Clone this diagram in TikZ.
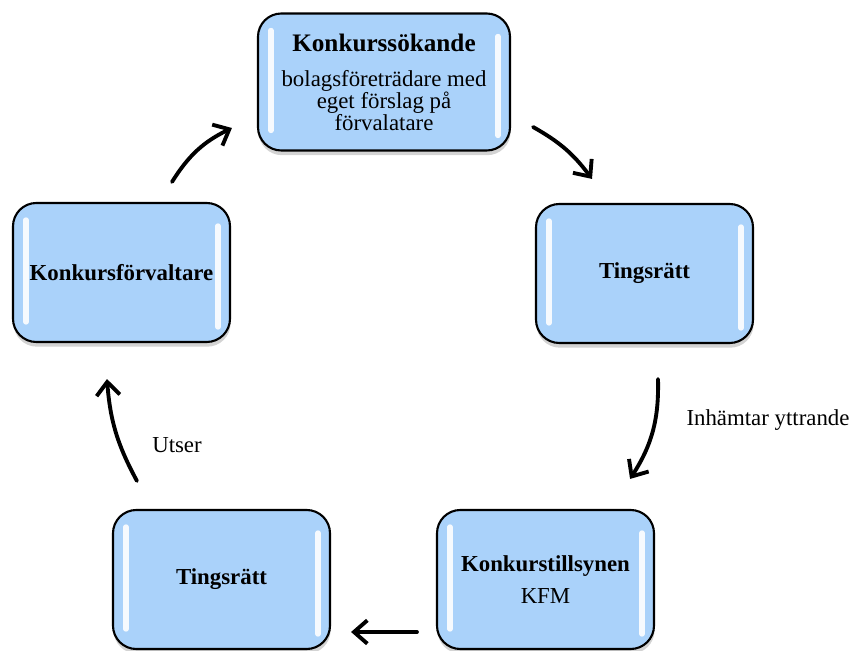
\documentclass[tikz,border=0pt]{standalone}
\usepackage{fontspec}
\setmainfont{Liberation Serif}
\usepackage{xcolor}
\usepackage{tikz}
\usetikzlibrary{arrows.meta,shadows}
\definecolor{boxblue}{RGB}{170,210,250}

\begin{document}
\begin{tikzpicture}[x=0.03cm, y=0.03cm,
    box/.style={draw, line width=1.8pt, rounded corners=0.7cm, fill=boxblue,
        minimum width=6.51cm, minimum height=4.17cm, inner sep=0pt, align=center,
        font=\fontsize{19.5}{18}\selectfont,
        drop shadow={shadow xshift=0.5pt, shadow yshift=-4pt, opacity=.35},
        path picture={
            \draw[white, line width=1.6mm, line cap=round, opacity=.9]
                ([shift={(13,-17)}]path picture bounding box.north west) --
                ([shift={(13,20)}]path picture bounding box.south west);
            \draw[white, line width=1.6mm, line cap=round, opacity=.9]
                ([shift={(-12,-23)}]path picture bounding box.north east) --
                ([shift={(-12,15)}]path picture bounding box.south east);
        }},
    flow/.style={line width=3.3pt, line cap=round,
        -{Straight Barb[length=4mm, width=7mm]}},
    label/.style={font=\fontsize{19.5}{22}\selectfont}]
    \useasboundingbox (0,0) rectangle (852,650);

    \node[box, minimum width=7.56cm, minimum height=4.11cm] (KS) at (384,568)
        {{\fontsize{21.5}{24}\selectfont\bfseries Konkurssökande}\\[12pt]
         bolagsföreträdare med\\eget förslag på\\förvalatare};
    \node[box] (TR) at (644.5,376.5) {\bfseries Tingsrätt};
    \node[box] (KT) at (545.5,70.5) {\bfseries Konkurstillsynen\\[9pt] KFM};
    \node[box] (TR2) at (221.5,70.5) {\bfseries Tingsrätt};
    \node[box] (KF) at (121.5,377.5) {\bfseries Konkursförvaltare};

    \node[label] (inh) at (768,230) {Inhämtar yttrande};
    \node[label] (uts) at (177,205) {Utser};

    \draw[flow] ([shift={(50.5,20)}]KF.north) to[bend left=16] ([shift={(-25,-46)}]KS.west);
    \draw[flow] ([shift={(22,-45)}]KS.east) to[bend left=12] ([shift={(-52.5,24)}]TR.north);
    \draw[flow] ([shift={(13.5,-35)}]TR.south) to[bend left=17] ([shift={(-25,30)}]KT.north east);
    \draw[flow] ([shift={(-19,-52.5)}]KT.west) to ([shift={(20,-52.5)}]TR2.east);
    \draw[flow] ([shift={(25,28)}]TR2.north west) to[bend left=12] ([shift={(-14.5,-36)}]KF.south);
\end{tikzpicture}
\end{document}
